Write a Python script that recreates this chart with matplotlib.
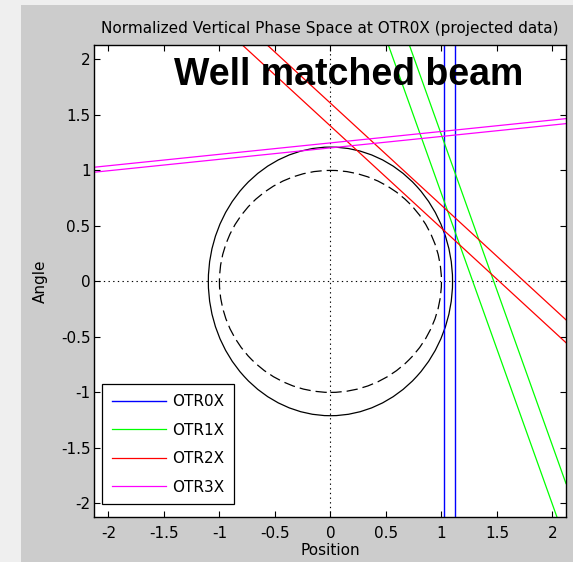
import matplotlib.pyplot as plt
from matplotlib.patches import Ellipse, Circle, Rectangle

plt.rcParams['axes.unicode_minus'] = False

# measured beam ellipse (solid) and design unit circle (dashed)
beam_ax = [1.10, 1.21]
design_r = 1.0

# OTR0X: vertical lines (position only)
otr0_pos = [1.027, 1.126]
# OTR1X..OTR3X: slope / intercept pairs
otr1_slope = -2.80
otr1_icpt = [3.59, 4.12]
otr2_slope = -0.92
otr2_icpt = [1.40, 1.606]
otr3_slope = 0.103
otr3_icpt = [1.203, 1.248]

ticks = [-2, -1.5, -1, -0.5, 0, 0.5, 1, 1.5, 2]
tick_labels = ['-2', '-1.5', '-1', '-0.5', '0', '0.5', '1', '1.5', '2']

fig = plt.figure(figsize=(5.73, 5.62), dpi=100, facecolor='#efefef')
fig.patches.append(Rectangle((21 / 573, 0), 1, 1 - 5 / 562, transform=fig.transFigure,
                             facecolor='#cccccc', edgecolor='none', zorder=-10))

ax = fig.add_axes([94 / 573, 1 - 516.7 / 562, 472 / 573, 471.7 / 562])
ax.set_zorder(1)
ax.set_xlim(-2.13, 2.122)
ax.set_ylim(-2.12, 2.13)

# reference axes
ax.axhline(0, color='black', lw=0.8, dashes=(1.2, 3.0))
ax.axvline(0, color='black', lw=0.8, dashes=(1.2, 3.0))

ax.add_patch(Ellipse((0, 0), 2 * beam_ax[0], 2 * beam_ax[1], fill=False,
                     edgecolor='black', lw=0.9))
ax.add_patch(Circle((0, 0), design_r, fill=False, edgecolor='black', lw=0.9,
                    linestyle=(0, (9, 4))))

for i, x in enumerate(otr0_pos):
    ax.axvline(x, color='blue', lw=1.0, label='OTR0X' if i == 0 else None)
for i, b in enumerate(otr1_icpt):
    ax.axline((0, b), slope=otr1_slope, color='#00ff00', lw=0.9,
              label='OTR1X' if i == 0 else None)
for i, b in enumerate(otr2_icpt):
    ax.axline((0, b), slope=otr2_slope, color='red', lw=0.9,
              label='OTR2X' if i == 0 else None)
for i, b in enumerate(otr3_icpt):
    ax.axline((0, b), slope=otr3_slope, color='magenta', lw=0.9,
              label='OTR3X' if i == 0 else None)

ax.text(0.16, 1.86, 'Well matched beam', ha='center', va='center',
        fontsize=27, fontweight='bold', family='Liberation Sans')

ax.set_xticks(ticks)
ax.set_xticklabels(tick_labels)
ax.set_yticks(ticks)
ax.set_yticklabels(tick_labels)
ax.tick_params(direction='in', length=4, width=0.8, top=True, right=True,
               labelsize=11, colors='black')
ax.tick_params(axis='x', pad=7)
ax.tick_params(axis='y', pad=2.5)

ax.set_title('Normalized Vertical Phase Space at OTR0X (projected data)',
             fontsize=11, pad=9)
ax.set_xlabel('Position', fontsize=11)
ax.set_ylabel('Angle', fontsize=11)
ax.xaxis.set_label_coords(0.5, -0.055)
ax.yaxis.set_label_coords(-0.098, 0.5)

for sp in ax.spines.values():
    sp.set_linewidth(1.0)

leg = ax.legend(loc='lower left', bbox_to_anchor=(0.0176, 0.0263), borderaxespad=0,
                fontsize=11, fancybox=False, framealpha=1, edgecolor='black',
                handlelength=3.5, handletextpad=0.45, labelspacing=0.88,
                borderpad=0.64)
leg.get_frame().set_linewidth(0.9)

plt.savefig('out.png', dpi=100, facecolor=fig.get_facecolor())
